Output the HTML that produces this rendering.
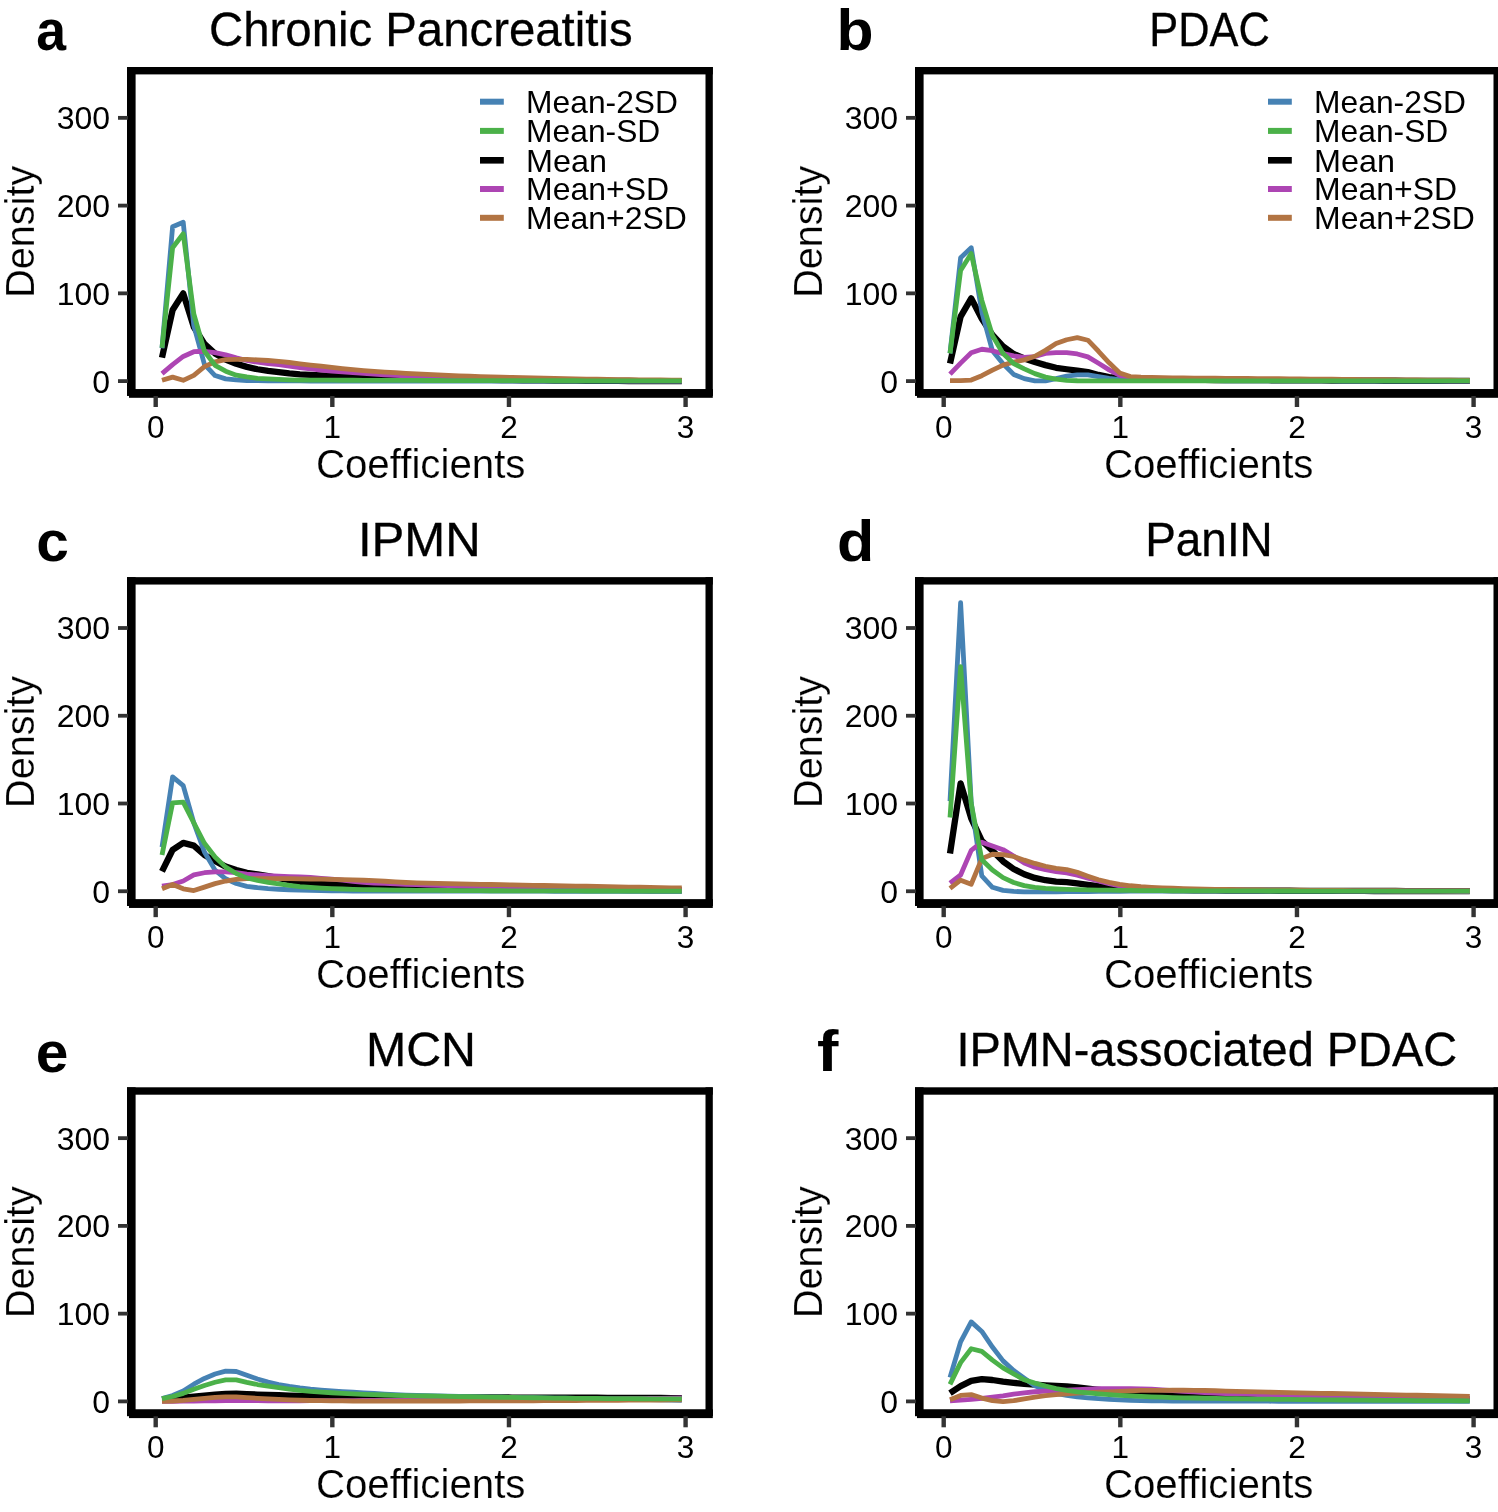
<!DOCTYPE html>
<html><head><meta charset="utf-8"><style>
html,body{margin:0;padding:0;background:#fff;}
body{width:1498px;height:1512px;overflow:hidden;}
svg{display:block;will-change:transform;font-family:"Liberation Sans",sans-serif;}
text.ax{stroke:#fff;stroke-width:0.2px;}
text.ti{stroke:#000;stroke-width:0.3px;}
</style></head><body>
<svg width="1498" height="1512" viewBox="0 0 1498 1512">
<rect width="1498" height="1512" fill="#fff"/>
<g>
<polyline points="162,357.67 172.61,310.02 183.22,293.35 193.82,326.96 204.43,343.81 215.04,353.46 225.65,359.6 236.26,363.81 246.86,366.88 257.47,369.25 268.08,370.83 278.69,372.06 289.3,373.47 299.9,374.34 310.51,374.92 321.12,375.42 331.73,375.86 342.34,376.25 352.94,376.6 363.55,376.93 374.16,377.23 384.77,377.53 395.38,377.83 405.98,378.12 416.59,378.41 427.2,378.68 437.81,378.94 448.42,379.18 459.02,379.4 469.63,379.6 480.24,379.78 490.85,379.93 501.46,380.05 512.06,380.15 522.67,380.25 533.28,380.34 543.89,380.43 554.5,380.52 565.1,380.6 575.71,380.68 586.32,380.75 596.93,380.82 607.54,380.88 618.14,380.94 628.75,380.99 639.36,381.03 649.97,381.06 660.58,381.08 671.18,381.1 681.79,381.1" fill="none" stroke="#000000" stroke-width="6.3" stroke-linejoin="round" stroke-linecap="butt"/>
<polyline points="162,348.28 172.61,226.66 183.22,222.27 193.82,325.64 204.43,364.43 215.04,375.57 225.65,378.91 236.26,379.96 246.86,380.49 257.47,380.72 268.08,380.84 278.69,380.88 289.3,380.92 299.9,380.95 310.51,380.98 321.12,381 331.73,381.02 342.34,381.03 352.94,381.04 363.55,381.05 374.16,381.06 384.77,381.06 395.38,381.06 405.98,381.07 416.59,381.07 427.2,381.07 437.81,381.07 448.42,381.08 459.02,381.08 469.63,381.08 480.24,381.08 490.85,381.08 501.46,381.09 512.06,381.09 522.67,381.09 533.28,381.09 543.89,381.09 554.5,381.09 565.1,381.09 575.71,381.1 586.32,381.1 596.93,381.1 607.54,381.1 618.14,381.1 628.75,381.1 639.36,381.1 649.97,381.1 660.58,381.1 671.18,381.1 681.79,381.1" fill="none" stroke="#4682b4" stroke-width="4.8" stroke-linejoin="round" stroke-linecap="butt"/>
<polyline points="162,373.64 172.61,364.6 183.22,356.44 193.82,351.7 204.43,351.27 215.04,352.58 225.65,354.78 236.26,357.85 246.86,360.48 257.47,362.23 268.08,363.55 278.69,364.6 289.3,366.01 299.9,367.5 310.51,368.91 321.12,370.13 331.73,371.09 342.34,371.92 352.94,372.68 363.55,373.43 374.16,374.14 384.77,374.75 395.38,375.35 405.98,375.95 416.59,376.54 427.2,377.11 437.81,377.66 448.42,378.17 459.02,378.63 469.63,379.03 480.24,379.37 490.85,379.62 501.46,379.78 512.06,379.9 522.67,380 533.28,380.1 543.89,380.2 554.5,380.29 565.1,380.37 575.71,380.45 586.32,380.52 596.93,380.59 607.54,380.64 618.14,380.69 628.75,380.74 639.36,380.77 649.97,380.8 660.58,380.82 671.18,380.83 681.79,380.84" fill="none" stroke="#ad45b3" stroke-width="4.8" stroke-linejoin="round" stroke-linecap="butt"/>
<polyline points="162,380.31 172.61,377.15 183.22,380.31 193.82,375.31 204.43,366.62 215.04,361.8 225.65,359.6 236.26,359.43 246.86,359.43 257.47,359.86 268.08,360.48 278.69,361.27 289.3,362.5 299.9,363.81 310.51,365.02 321.12,366.23 331.73,367.41 342.34,368.54 352.94,369.59 363.55,370.54 374.16,371.37 384.77,372.06 395.38,372.7 405.98,373.3 416.59,373.87 427.2,374.41 437.81,374.91 448.42,375.38 459.02,375.81 469.63,376.2 480.24,376.56 490.85,376.87 501.46,377.15 512.06,377.41 522.67,377.66 533.28,377.91 543.89,378.16 554.5,378.4 565.1,378.63 575.71,378.84 586.32,379.05 596.93,379.24 607.54,379.42 618.14,379.57 628.75,379.71 639.36,379.83 649.97,379.92 660.58,379.99 671.18,380.03 681.79,380.05" fill="none" stroke="#b27443" stroke-width="4.8" stroke-linejoin="round" stroke-linecap="butt"/>
<polyline points="162,347.67 172.61,247.72 183.22,233.68 193.82,313.97 204.43,351.27 215.04,365.31 225.65,371.18 236.26,375.13 246.86,376.89 257.47,378.29 268.08,378.82 278.69,379.35 289.3,379.78 299.9,380.05 310.51,380.12 321.12,380.17 331.73,380.21 342.34,380.23 352.94,380.26 363.55,380.28 374.16,380.31 384.77,380.34 395.38,380.38 405.98,380.41 416.59,380.45 427.2,380.48 437.81,380.51 448.42,380.54 459.02,380.57 469.63,380.6 480.24,380.62 490.85,380.64 501.46,380.66 512.06,380.68 522.67,380.69 533.28,380.71 543.89,380.72 554.5,380.74 565.1,380.75 575.71,380.76 586.32,380.78 596.93,380.79 607.54,380.8 618.14,380.81 628.75,380.82 639.36,380.82 649.97,380.83 660.58,380.83 671.18,380.84 681.79,380.84" fill="none" stroke="#4bb149" stroke-width="4.8" stroke-linejoin="round" stroke-linecap="butt"/>
<rect x="127" y="67" width="585.8" height="7.4" fill="#000"/>
<rect x="127" y="67" width="8.6" height="328.8" fill="#000"/>
<rect x="705.5" y="67" width="7.3" height="328.8" fill="#000"/>
<rect x="127" y="389.2" width="585.8" height="6.6" fill="#000"/>
<rect x="129" y="389.2" width="583.8" height="8.6" fill="#000"/>
<rect x="118" y="379.2" width="10" height="3.8" fill="#333"/>
<text x="110.1" y="392.5" font-size="32" text-anchor="end">0</text>
<rect x="118" y="291.45" width="10" height="3.8" fill="#333"/>
<text x="110.1" y="304.75" font-size="32" text-anchor="end">100</text>
<rect x="118" y="203.7" width="10" height="3.8" fill="#333"/>
<text x="110.1" y="217" font-size="32" text-anchor="end">200</text>
<rect x="118" y="115.95" width="10" height="3.8" fill="#333"/>
<text x="110.1" y="129.25" font-size="32" text-anchor="end">300</text>
<rect x="153.5" y="396" width="4.4" height="11" fill="#333"/>
<text x="155.7" y="438.1" font-size="31.5" text-anchor="middle">0</text>
<rect x="330.13" y="396" width="4.4" height="11" fill="#333"/>
<text x="332.33" y="438.1" font-size="31.5" text-anchor="middle">1</text>
<rect x="506.76" y="396" width="4.4" height="11" fill="#333"/>
<text x="508.96" y="438.1" font-size="31.5" text-anchor="middle">2</text>
<rect x="683.39" y="396" width="4.4" height="11" fill="#333"/>
<text x="685.59" y="438.1" font-size="31.5" text-anchor="middle">3</text>
<text x="420.7" y="477.6" font-size="41.5" class="ax" text-anchor="middle" textLength="209.5" lengthAdjust="spacingAndGlyphs">Coefficients</text>
<text transform="translate(34.4,231.8) rotate(-90)" font-size="41.2" class="ax" text-anchor="middle" textLength="132" lengthAdjust="spacingAndGlyphs">Density</text>
<text x="420.8" y="46.1" font-size="48" class="ti" text-anchor="middle" textLength="423.5" lengthAdjust="spacingAndGlyphs">Chronic Pancreatitis</text>
<text transform="translate(36.2,50) scale(0.94,1)" font-size="57" font-weight="bold" class="b">a</text>
<rect x="480" y="98.7" width="23.8" height="6.0" fill="#4682b4"/>
<text transform="translate(526.1,112.9) scale(1.0350,1)" font-size="30.7">Mean-2SD</text>
<rect x="480" y="127.9" width="23.8" height="6.0" fill="#4bb149"/>
<text transform="translate(526.1,142.1) scale(1.0350,1)" font-size="30.7">Mean-SD</text>
<rect x="480" y="157" width="23.8" height="6.6" fill="#000000"/>
<text transform="translate(526.1,171.5) scale(1.0550,1)" font-size="30.7">Mean</text>
<rect x="480" y="186" width="23.8" height="6.0" fill="#ad45b3"/>
<text transform="translate(526.1,200.2) scale(1.0410,1)" font-size="30.7">Mean+SD</text>
<rect x="480" y="214.8" width="23.8" height="6.0" fill="#b27443"/>
<text transform="translate(526.1,229) scale(1.0410,1)" font-size="30.7">Mean+2SD</text>
</g>
<g>
<polyline points="950,363.55 960.61,316.6 971.22,298.35 981.82,318.8 992.43,334.94 1003.04,346.44 1013.65,353.99 1024.26,358.46 1034.86,361.97 1045.47,365.13 1056.08,367.76 1066.69,369.25 1077.3,370.66 1087.9,372.15 1098.51,374.96 1109.12,377.06 1119.73,378.47 1130.34,379.17 1140.94,379.34 1151.55,379.49 1162.16,379.62 1172.77,379.72 1183.38,379.81 1193.98,379.88 1204.59,379.95 1215.2,380 1225.81,380.05 1236.42,380.09 1247.02,380.13 1257.63,380.17 1268.24,380.22 1278.85,380.27 1289.46,380.33 1300.06,380.38 1310.67,380.43 1321.28,380.47 1331.89,380.52 1342.5,380.57 1353.1,380.61 1363.71,380.65 1374.32,380.69 1384.93,380.73 1395.54,380.76 1406.14,380.8 1416.75,380.83 1427.36,380.85 1437.97,380.88 1448.58,380.9 1459.18,380.91 1469.79,380.92" fill="none" stroke="#000000" stroke-width="6.3" stroke-linejoin="round" stroke-linecap="butt"/>
<polyline points="950,353.37 960.61,257.81 971.22,247.72 981.82,311.78 992.43,350.83 1003.04,363.73 1013.65,374.43 1024.26,378.64 1034.86,380.84 1045.47,380.84 1056.08,378.64 1066.69,376.01 1077.3,374.78 1087.9,374.78 1098.51,376.71 1109.12,378.47 1119.73,379.52 1130.34,380.05 1140.94,380.18 1151.55,380.29 1162.16,380.39 1172.77,380.48 1183.38,380.55 1193.98,380.61 1204.59,380.66 1215.2,380.7 1225.81,380.73 1236.42,380.76 1247.02,380.79 1257.63,380.81 1268.24,380.84 1278.85,380.86 1289.46,380.88 1300.06,380.9 1310.67,380.93 1321.28,380.95 1331.89,380.96 1342.5,380.98 1353.1,381 1363.71,381.02 1374.32,381.03 1384.93,381.05 1395.54,381.06 1406.14,381.07 1416.75,381.08 1427.36,381.09 1437.97,381.09 1448.58,381.1 1459.18,381.1 1469.79,381.1" fill="none" stroke="#4682b4" stroke-width="4.8" stroke-linejoin="round" stroke-linecap="butt"/>
<polyline points="950,374.08 960.61,363.11 971.22,352.84 981.82,349.25 992.43,350.74 1003.04,353.72 1013.65,355.92 1024.26,357.41 1034.86,356.53 1045.47,353.46 1056.08,352.58 1066.69,352.58 1077.3,353.99 1087.9,356.88 1098.51,363.29 1109.12,369.87 1119.73,375.4 1130.34,377.41 1140.94,378.03 1151.55,378.26 1162.16,378.47 1172.77,378.64 1183.38,378.79 1193.98,378.91 1204.59,379.02 1215.2,379.11 1225.81,379.2 1236.42,379.28 1247.02,379.35 1257.63,379.43 1268.24,379.52 1278.85,379.61 1289.46,379.7 1300.06,379.79 1310.67,379.87 1321.28,379.96 1331.89,380.04 1342.5,380.12 1353.1,380.2 1363.71,380.27 1374.32,380.35 1384.93,380.42 1395.54,380.48 1406.14,380.54 1416.75,380.6 1427.36,380.66 1437.97,380.71 1448.58,380.76 1459.18,380.8 1469.79,380.84" fill="none" stroke="#ad45b3" stroke-width="4.8" stroke-linejoin="round" stroke-linecap="butt"/>
<polyline points="950,380.57 960.61,380.57 971.22,380.05 981.82,375.66 992.43,370.13 1003.04,365.04 1013.65,362.15 1024.26,359.86 1034.86,356.27 1045.47,350.39 1056.08,343.54 1066.69,339.77 1077.3,337.66 1087.9,340.21 1098.51,351.27 1109.12,362.85 1119.73,373.03 1130.34,376.54 1140.94,377.24 1151.55,377.47 1162.16,377.66 1172.77,377.82 1183.38,377.96 1193.98,378.07 1204.59,378.16 1215.2,378.24 1225.81,378.32 1236.42,378.39 1247.02,378.46 1257.63,378.55 1268.24,378.64 1278.85,378.75 1289.46,378.85 1300.06,378.95 1310.67,379.05 1321.28,379.15 1331.89,379.25 1342.5,379.35 1353.1,379.44 1363.71,379.54 1374.32,379.63 1384.93,379.72 1395.54,379.81 1406.14,379.9 1416.75,379.99 1427.36,380.07 1437.97,380.16 1448.58,380.24 1459.18,380.32 1469.79,380.4" fill="none" stroke="#b27443" stroke-width="4.8" stroke-linejoin="round" stroke-linecap="butt"/>
<polyline points="950,353.37 960.61,270.54 971.22,253.6 981.82,300.37 992.43,335.47 1003.04,353.46 1013.65,363.55 1024.26,368.81 1034.86,373.64 1045.47,377.15 1056.08,379.17 1066.69,380.4 1077.3,380.75 1087.9,380.84 1098.51,380.92 1109.12,380.92 1119.73,380.92 1130.34,380.92 1140.94,380.92 1151.55,380.92 1162.16,380.92 1172.77,380.92 1183.38,380.92 1193.98,380.92 1204.59,380.92 1215.2,380.92 1225.81,380.92 1236.42,380.92 1247.02,380.92 1257.63,380.92 1268.24,380.92 1278.85,380.92 1289.46,380.92 1300.06,380.92 1310.67,380.92 1321.28,380.92 1331.89,380.92 1342.5,380.92 1353.1,380.92 1363.71,380.92 1374.32,380.92 1384.93,380.92 1395.54,380.92 1406.14,380.92 1416.75,380.92 1427.36,380.92 1437.97,380.92 1448.58,380.92 1459.18,380.92 1469.79,380.92" fill="none" stroke="#4bb149" stroke-width="4.8" stroke-linejoin="round" stroke-linecap="butt"/>
<rect x="915" y="67" width="585.8" height="7.4" fill="#000"/>
<rect x="915" y="67" width="8.6" height="328.8" fill="#000"/>
<rect x="1493.5" y="67" width="7.3" height="328.8" fill="#000"/>
<rect x="915" y="389.2" width="585.8" height="6.6" fill="#000"/>
<rect x="917" y="389.2" width="583.8" height="8.6" fill="#000"/>
<rect x="906" y="379.2" width="10" height="3.8" fill="#333"/>
<text x="898.1" y="392.5" font-size="32" text-anchor="end">0</text>
<rect x="906" y="291.45" width="10" height="3.8" fill="#333"/>
<text x="898.1" y="304.75" font-size="32" text-anchor="end">100</text>
<rect x="906" y="203.7" width="10" height="3.8" fill="#333"/>
<text x="898.1" y="217" font-size="32" text-anchor="end">200</text>
<rect x="906" y="115.95" width="10" height="3.8" fill="#333"/>
<text x="898.1" y="129.25" font-size="32" text-anchor="end">300</text>
<rect x="941.5" y="396" width="4.4" height="11" fill="#333"/>
<text x="943.7" y="438.1" font-size="31.5" text-anchor="middle">0</text>
<rect x="1118.13" y="396" width="4.4" height="11" fill="#333"/>
<text x="1120.33" y="438.1" font-size="31.5" text-anchor="middle">1</text>
<rect x="1294.76" y="396" width="4.4" height="11" fill="#333"/>
<text x="1296.96" y="438.1" font-size="31.5" text-anchor="middle">2</text>
<rect x="1471.39" y="396" width="4.4" height="11" fill="#333"/>
<text x="1473.59" y="438.1" font-size="31.5" text-anchor="middle">3</text>
<text x="1208.7" y="477.6" font-size="41.5" class="ax" text-anchor="middle" textLength="209.5" lengthAdjust="spacingAndGlyphs">Coefficients</text>
<text transform="translate(822.4,231.8) rotate(-90)" font-size="41.2" class="ax" text-anchor="middle" textLength="132" lengthAdjust="spacingAndGlyphs">Density</text>
<text x="1209.6" y="46.1" font-size="48" class="ti" text-anchor="middle" textLength="120.5" lengthAdjust="spacingAndGlyphs">PDAC</text>
<text transform="translate(836.5,50.3) scale(1.064,1)" font-size="57" font-weight="bold" class="b">b</text>
<rect x="1268" y="98.7" width="23.8" height="6.0" fill="#4682b4"/>
<text transform="translate(1314.1,112.9) scale(1.0350,1)" font-size="30.7">Mean-2SD</text>
<rect x="1268" y="127.9" width="23.8" height="6.0" fill="#4bb149"/>
<text transform="translate(1314.1,142.1) scale(1.0350,1)" font-size="30.7">Mean-SD</text>
<rect x="1268" y="157" width="23.8" height="6.6" fill="#000000"/>
<text transform="translate(1314.1,171.5) scale(1.0550,1)" font-size="30.7">Mean</text>
<rect x="1268" y="186" width="23.8" height="6.0" fill="#ad45b3"/>
<text transform="translate(1314.1,200.2) scale(1.0410,1)" font-size="30.7">Mean+SD</text>
<rect x="1268" y="214.8" width="23.8" height="6.0" fill="#b27443"/>
<text transform="translate(1314.1,229) scale(1.0410,1)" font-size="30.7">Mean+2SD</text>
</g>
<g>
<polyline points="162,871.49 172.61,849.79 183.22,842.85 193.82,845.62 204.43,855.01 215.04,861.06 225.65,866.59 236.26,870.1 246.86,872.82 257.47,874.31 268.08,876.16 278.69,878.09 289.3,880.05 299.9,881.89 310.51,882.96 321.12,883.55 331.73,884.01 342.34,884.37 352.94,884.68 363.55,884.98 374.16,885.29 384.77,885.58 395.38,885.84 405.98,886.11 416.59,886.39 427.2,886.68 437.81,886.97 448.42,887.25 459.02,887.51 469.63,887.74 480.24,887.95 490.85,888.15 501.46,888.34 512.06,888.53 522.67,888.7 533.28,888.87 543.89,889.03 554.5,889.18 565.1,889.32 575.71,889.46 586.32,889.58 596.93,889.7 607.54,889.82 618.14,889.93 628.75,890.03 639.36,890.13 649.97,890.23 660.58,890.31 671.18,890.39 681.79,890.46" fill="none" stroke="#000000" stroke-width="6.3" stroke-linejoin="round" stroke-linecap="butt"/>
<polyline points="162,847.19 172.61,776.9 183.22,785.58 193.82,822.89 204.43,852.03 215.04,870.1 225.65,878.79 236.26,883.53 246.86,886.34 257.47,887.73 268.08,888.62 278.69,889.25 289.3,889.77 299.9,890.16 310.51,890.41 321.12,890.6 331.73,890.77 342.34,890.91 352.94,891.01 363.55,891.06 374.16,891.08 384.77,891.1 395.38,891.11 405.98,891.12 416.59,891.13 427.2,891.14 437.81,891.15 448.42,891.16 459.02,891.17 469.63,891.18 480.24,891.19 490.85,891.2 501.46,891.2 512.06,891.21 522.67,891.21 533.28,891.22 543.89,891.22 554.5,891.23 565.1,891.23 575.71,891.24 586.32,891.24 596.93,891.24 607.54,891.24 618.14,891.25 628.75,891.25 639.36,891.25 649.97,891.25 660.58,891.25 671.18,891.25 681.79,891.25" fill="none" stroke="#4682b4" stroke-width="4.8" stroke-linejoin="round" stroke-linecap="butt"/>
<polyline points="162,886.24 172.61,884.5 183.22,881.03 193.82,874.95 204.43,872.73 215.04,871.86 225.65,871.86 236.26,872.73 246.86,874.14 257.47,874.93 268.08,875.54 278.69,876.07 289.3,876.53 299.9,876.96 310.51,877.51 321.12,878.29 331.73,879.2 342.34,880.18 352.94,881.33 363.55,882.35 374.16,883 384.77,883.47 395.38,883.87 405.98,884.24 416.59,884.63 427.2,885.01 437.81,885.37 448.42,885.71 459.02,886.04 469.63,886.34 480.24,886.62 490.85,886.89 501.46,887.16 512.06,887.43 522.67,887.68 533.28,887.92 543.89,888.14 554.5,888.36 565.1,888.55 575.71,888.73 586.32,888.88 596.93,889.02 607.54,889.16 618.14,889.29 628.75,889.41 639.36,889.52 649.97,889.62 660.58,889.71 671.18,889.79 681.79,889.85" fill="none" stroke="#ad45b3" stroke-width="4.8" stroke-linejoin="round" stroke-linecap="butt"/>
<polyline points="162,888.84 172.61,884.5 183.22,888.84 193.82,890.57 204.43,887.11 215.04,883.63 225.65,881.03 236.26,879.3 246.86,878.7 257.47,878.65 268.08,878.62 278.69,878.61 289.3,878.68 299.9,878.83 310.51,879 321.12,879.18 331.73,879.39 342.34,879.63 352.94,879.91 363.55,880.23 374.16,880.64 384.77,881.26 395.38,881.93 405.98,882.48 416.59,882.84 427.2,883.13 437.81,883.38 448.42,883.61 459.02,883.83 469.63,884.05 480.24,884.28 490.85,884.49 501.46,884.69 512.06,884.89 522.67,885.08 533.28,885.28 543.89,885.48 554.5,885.68 565.1,885.88 575.71,886.08 586.32,886.27 596.93,886.47 607.54,886.67 618.14,886.86 628.75,887.05 639.36,887.25 649.97,887.44 660.58,887.63 671.18,887.82 681.79,888" fill="none" stroke="#b27443" stroke-width="4.8" stroke-linejoin="round" stroke-linecap="butt"/>
<polyline points="162,855 172.61,802.93 183.22,802.06 193.82,822.89 204.43,843.25 215.04,857.03 225.65,867.12 236.26,873.44 246.86,877.91 257.47,880.37 268.08,882.28 278.69,883.88 289.3,885.33 299.9,886.59 310.51,887.43 321.12,888.04 331.73,888.56 342.34,888.99 352.94,889.34 363.55,889.59 374.16,889.77 384.77,889.92 395.38,890.06 405.98,890.18 416.59,890.28 427.2,890.37 437.81,890.45 448.42,890.52 459.02,890.58 469.63,890.64 480.24,890.68 490.85,890.73 501.46,890.77 512.06,890.81 522.67,890.84 533.28,890.87 543.89,890.9 554.5,890.93 565.1,890.95 575.71,890.97 586.32,890.99 596.93,891 607.54,891.02 618.14,891.03 628.75,891.04 639.36,891.05 649.97,891.06 660.58,891.07 671.18,891.07 681.79,891.07" fill="none" stroke="#4bb149" stroke-width="4.8" stroke-linejoin="round" stroke-linecap="butt"/>
<rect x="127" y="577.15" width="585.8" height="7.4" fill="#000"/>
<rect x="127" y="577.15" width="8.6" height="328.8" fill="#000"/>
<rect x="705.5" y="577.15" width="7.3" height="328.8" fill="#000"/>
<rect x="127" y="899.35" width="585.8" height="6.6" fill="#000"/>
<rect x="129" y="899.35" width="583.8" height="8.6" fill="#000"/>
<rect x="118" y="889.35" width="10" height="3.8" fill="#333"/>
<text x="110.1" y="902.65" font-size="32" text-anchor="end">0</text>
<rect x="118" y="801.6" width="10" height="3.8" fill="#333"/>
<text x="110.1" y="814.9" font-size="32" text-anchor="end">100</text>
<rect x="118" y="713.85" width="10" height="3.8" fill="#333"/>
<text x="110.1" y="727.15" font-size="32" text-anchor="end">200</text>
<rect x="118" y="626.1" width="10" height="3.8" fill="#333"/>
<text x="110.1" y="639.4" font-size="32" text-anchor="end">300</text>
<rect x="153.5" y="906.15" width="4.4" height="11" fill="#333"/>
<text x="155.7" y="948.25" font-size="31.5" text-anchor="middle">0</text>
<rect x="330.13" y="906.15" width="4.4" height="11" fill="#333"/>
<text x="332.33" y="948.25" font-size="31.5" text-anchor="middle">1</text>
<rect x="506.76" y="906.15" width="4.4" height="11" fill="#333"/>
<text x="508.96" y="948.25" font-size="31.5" text-anchor="middle">2</text>
<rect x="683.39" y="906.15" width="4.4" height="11" fill="#333"/>
<text x="685.59" y="948.25" font-size="31.5" text-anchor="middle">3</text>
<text x="420.7" y="987.75" font-size="41.5" class="ax" text-anchor="middle" textLength="209.5" lengthAdjust="spacingAndGlyphs">Coefficients</text>
<text transform="translate(34.4,741.95) rotate(-90)" font-size="41.2" class="ax" text-anchor="middle" textLength="132" lengthAdjust="spacingAndGlyphs">Density</text>
<text x="419.3" y="556" font-size="48" class="ti" text-anchor="middle" textLength="122.8" lengthAdjust="spacingAndGlyphs">IPMN</text>
<text transform="translate(36.3,561.3) scale(1.03,1)" font-size="57" font-weight="bold" class="b">c</text>
</g>
<g>
<polyline points="950,853.52 960.61,783.32 971.22,818.42 981.82,840.79 992.43,850.71 1003.04,861.32 1013.65,868.97 1024.26,874.28 1034.86,877.91 1045.47,880.22 1056.08,881.59 1066.69,882.22 1077.3,883.34 1087.9,884.81 1098.51,886.12 1109.12,887.19 1119.73,888.02 1130.34,888.61 1140.94,889.14 1151.55,889.53 1162.16,889.77 1172.77,889.98 1183.38,890.15 1193.98,890.29 1204.59,890.39 1215.2,890.46 1225.81,890.51 1236.42,890.56 1247.02,890.6 1257.63,890.65 1268.24,890.69 1278.85,890.73 1289.46,890.77 1300.06,890.8 1310.67,890.84 1321.28,890.87 1331.89,890.89 1342.5,890.92 1353.1,890.95 1363.71,890.97 1374.32,890.99 1384.93,891.01 1395.54,891.02 1406.14,891.04 1416.75,891.05 1427.36,891.06 1437.97,891.06 1448.58,891.07 1459.18,891.07 1469.79,891.07" fill="none" stroke="#000000" stroke-width="6.3" stroke-linejoin="round" stroke-linecap="butt"/>
<polyline points="950,801.22 960.61,602.73 971.22,802.62 981.82,875.98 992.43,887.31 1003.04,890.39 1013.65,891.42 1024.26,891.83 1034.86,891.82 1045.47,891.78 1056.08,891.73 1066.69,891.66 1077.3,891.58 1087.9,891.5 1098.51,891.41 1109.12,891.32 1119.73,891.24 1130.34,891.18 1140.94,891.12 1151.55,891.09 1162.16,891.07 1172.77,891.07 1183.38,891.07 1193.98,891.07 1204.59,891.07 1215.2,891.08 1225.81,891.08 1236.42,891.08 1247.02,891.08 1257.63,891.08 1268.24,891.08 1278.85,891.08 1289.46,891.09 1300.06,891.09 1310.67,891.09 1321.28,891.1 1331.89,891.1 1342.5,891.11 1353.1,891.12 1363.71,891.12 1374.32,891.13 1384.93,891.14 1395.54,891.15 1406.14,891.16 1416.75,891.17 1427.36,891.19 1437.97,891.2 1448.58,891.22 1459.18,891.23 1469.79,891.25" fill="none" stroke="#4682b4" stroke-width="4.8" stroke-linejoin="round" stroke-linecap="butt"/>
<polyline points="950,883.21 960.61,875.01 971.22,850.4 981.82,842.21 992.43,845.94 1003.04,849.66 1013.65,856.09 1024.26,862.93 1034.86,867.16 1045.47,869.75 1056.08,871.55 1066.69,872.89 1077.3,875.15 1087.9,878.13 1098.51,881.02 1109.12,883.75 1119.73,885.85 1130.34,886.98 1140.94,887.82 1151.55,888.42 1162.16,888.85 1172.77,889.22 1183.38,889.53 1193.98,889.77 1204.59,889.93 1215.2,890.05 1225.81,890.16 1236.42,890.25 1247.02,890.33 1257.63,890.4 1268.24,890.45 1278.85,890.5 1289.46,890.55 1300.06,890.59 1310.67,890.63 1321.28,890.67 1331.89,890.71 1342.5,890.74 1353.1,890.78 1363.71,890.81 1374.32,890.84 1384.93,890.87 1395.54,890.89 1406.14,890.92 1416.75,890.94 1427.36,890.95 1437.97,890.97 1448.58,890.98 1459.18,890.98 1469.79,890.99" fill="none" stroke="#ad45b3" stroke-width="4.8" stroke-linejoin="round" stroke-linecap="butt"/>
<polyline points="950,888.34 960.61,880.14 971.22,884.24 981.82,858.61 992.43,854.23 1003.04,854.58 1013.65,856.51 1024.26,860.16 1034.86,863.43 1045.47,866.24 1056.08,868.39 1066.69,869.64 1077.3,872.29 1087.9,876.15 1098.51,879.79 1109.12,882.41 1119.73,884.31 1130.34,885.76 1140.94,886.73 1151.55,887.37 1162.16,887.85 1172.77,888.27 1183.38,888.62 1193.98,888.91 1204.59,889.14 1215.2,889.33 1225.81,889.51 1236.42,889.66 1247.02,889.8 1257.63,889.93 1268.24,890.03 1278.85,890.12 1289.46,890.2 1300.06,890.26 1310.67,890.33 1321.28,890.39 1331.89,890.45 1342.5,890.51 1353.1,890.57 1363.71,890.62 1374.32,890.67 1384.93,890.71 1395.54,890.75 1406.14,890.79 1416.75,890.82 1427.36,890.85 1437.97,890.87 1448.58,890.89 1459.18,890.9 1469.79,890.9" fill="none" stroke="#b27443" stroke-width="4.8" stroke-linejoin="round" stroke-linecap="butt"/>
<polyline points="950,817.54 960.61,666.61 971.22,803.5 981.82,859.66 992.43,870.03 1003.04,877.64 1013.65,882.53 1024.26,885.61 1034.86,887.47 1045.47,888.41 1056.08,888.98 1066.69,889.39 1077.3,889.67 1087.9,889.88 1098.51,890.04 1109.12,890.17 1119.73,890.3 1130.34,890.44 1140.94,890.56 1151.55,890.64 1162.16,890.7 1172.77,890.74 1183.38,890.78 1193.98,890.82 1204.59,890.85 1215.2,890.88 1225.81,890.91 1236.42,890.93 1247.02,890.95 1257.63,890.97 1268.24,890.99 1278.85,891 1289.46,891.02 1300.06,891.03 1310.67,891.04 1321.28,891.06 1331.89,891.07 1342.5,891.08 1353.1,891.09 1363.71,891.1 1374.32,891.12 1384.93,891.12 1395.54,891.13 1406.14,891.14 1416.75,891.15 1427.36,891.15 1437.97,891.16 1448.58,891.16 1459.18,891.16 1469.79,891.16" fill="none" stroke="#4bb149" stroke-width="4.8" stroke-linejoin="round" stroke-linecap="butt"/>
<rect x="915" y="577.15" width="585.8" height="7.4" fill="#000"/>
<rect x="915" y="577.15" width="8.6" height="328.8" fill="#000"/>
<rect x="1493.5" y="577.15" width="7.3" height="328.8" fill="#000"/>
<rect x="915" y="899.35" width="585.8" height="6.6" fill="#000"/>
<rect x="917" y="899.35" width="583.8" height="8.6" fill="#000"/>
<rect x="906" y="889.35" width="10" height="3.8" fill="#333"/>
<text x="898.1" y="902.65" font-size="32" text-anchor="end">0</text>
<rect x="906" y="801.6" width="10" height="3.8" fill="#333"/>
<text x="898.1" y="814.9" font-size="32" text-anchor="end">100</text>
<rect x="906" y="713.85" width="10" height="3.8" fill="#333"/>
<text x="898.1" y="727.15" font-size="32" text-anchor="end">200</text>
<rect x="906" y="626.1" width="10" height="3.8" fill="#333"/>
<text x="898.1" y="639.4" font-size="32" text-anchor="end">300</text>
<rect x="941.5" y="906.15" width="4.4" height="11" fill="#333"/>
<text x="943.7" y="948.25" font-size="31.5" text-anchor="middle">0</text>
<rect x="1118.13" y="906.15" width="4.4" height="11" fill="#333"/>
<text x="1120.33" y="948.25" font-size="31.5" text-anchor="middle">1</text>
<rect x="1294.76" y="906.15" width="4.4" height="11" fill="#333"/>
<text x="1296.96" y="948.25" font-size="31.5" text-anchor="middle">2</text>
<rect x="1471.39" y="906.15" width="4.4" height="11" fill="#333"/>
<text x="1473.59" y="948.25" font-size="31.5" text-anchor="middle">3</text>
<text x="1208.7" y="987.75" font-size="41.5" class="ax" text-anchor="middle" textLength="209.5" lengthAdjust="spacingAndGlyphs">Coefficients</text>
<text transform="translate(822.4,741.95) rotate(-90)" font-size="41.2" class="ax" text-anchor="middle" textLength="132" lengthAdjust="spacingAndGlyphs">Density</text>
<text x="1209" y="556" font-size="48" class="ti" text-anchor="middle" textLength="127.5" lengthAdjust="spacingAndGlyphs">PanIN</text>
<text transform="translate(837.1,561) scale(1.07,1)" font-size="57" font-weight="bold" class="b">d</text>
</g>
<g>
<polyline points="162,1399.47 172.61,1398.48 183.22,1397.55 193.82,1396.67 204.43,1395.63 215.04,1394.61 225.65,1393.78 236.26,1393.77 246.86,1394.2 257.47,1394.56 268.08,1394.81 278.69,1395.12 289.3,1395.55 299.9,1395.88 310.51,1396.16 321.12,1396.41 331.73,1396.65 342.34,1396.9 352.94,1397.11 363.55,1397.2 374.16,1397.23 384.77,1397.25 395.38,1397.27 405.98,1397.29 416.59,1397.32 427.2,1397.34 437.81,1397.36 448.42,1397.38 459.02,1397.4 469.63,1397.43 480.24,1397.45 490.85,1397.48 501.46,1397.5 512.06,1397.53 522.67,1397.56 533.28,1397.58 543.89,1397.61 554.5,1397.64 565.1,1397.67 575.71,1397.7 586.32,1397.73 596.93,1397.77 607.54,1397.8 618.14,1397.84 628.75,1397.87 639.36,1397.91 649.97,1397.95 660.58,1397.99 671.18,1398.03 681.79,1398.07" fill="none" stroke="#000000" stroke-width="6.3" stroke-linejoin="round" stroke-linecap="butt"/>
<polyline points="162,1398.5 172.61,1395.56 183.22,1390.92 193.82,1384.18 204.43,1378.44 215.04,1374.03 225.65,1371.16 236.26,1371.49 246.86,1375.34 257.47,1379.01 268.08,1382.11 278.69,1384.52 289.3,1386.45 299.9,1387.98 310.51,1389.13 321.12,1390.04 331.73,1390.84 342.34,1391.54 352.94,1392.17 363.55,1392.8 374.16,1393.49 384.77,1394.18 395.38,1394.74 405.98,1395.11 416.59,1395.44 427.2,1395.72 437.81,1395.98 448.42,1396.21 459.02,1396.42 469.63,1396.63 480.24,1396.84 490.85,1397.04 501.46,1397.23 512.06,1397.42 522.67,1397.59 533.28,1397.76 543.89,1397.92 554.5,1398.09 565.1,1398.26 575.71,1398.43 586.32,1398.61 596.93,1398.79 607.54,1398.97 618.14,1399.16 628.75,1399.34 639.36,1399.52 649.97,1399.71 660.58,1399.89 671.18,1400.07 681.79,1400.26" fill="none" stroke="#4682b4" stroke-width="4.8" stroke-linejoin="round" stroke-linecap="butt"/>
<polyline points="162,1401.4 172.61,1401.29 183.22,1401.18 193.82,1401.06 204.43,1400.91 215.04,1400.75 225.65,1400.63 236.26,1400.62 246.86,1400.66 257.47,1400.72 268.08,1400.77 278.69,1400.78 289.3,1400.77 299.9,1400.75 310.51,1400.71 321.12,1400.67 331.73,1400.63 342.34,1400.59 352.94,1400.55 363.55,1400.51 374.16,1400.48 384.77,1400.46 395.38,1400.43 405.98,1400.4 416.59,1400.37 427.2,1400.35 437.81,1400.32 448.42,1400.29 459.02,1400.25 469.63,1400.21 480.24,1400.17 490.85,1400.12 501.46,1400.07 512.06,1400 522.67,1399.93 533.28,1399.86 543.89,1399.77 554.5,1399.68 565.1,1399.59 575.71,1399.49 586.32,1399.38 596.93,1399.25 607.54,1399.1 618.14,1398.93 628.75,1398.76 639.36,1398.59 649.97,1398.44 660.58,1398.28 671.18,1398.13 681.79,1397.98" fill="none" stroke="#ad45b3" stroke-width="4.8" stroke-linejoin="round" stroke-linecap="butt"/>
<polyline points="162,1401.4 172.61,1400.99 183.22,1400.31 193.82,1399.3 204.43,1398.27 215.04,1397.45 225.65,1396.93 236.26,1396.93 246.86,1397.58 257.47,1398.29 268.08,1398.94 278.69,1399.46 289.3,1399.9 299.9,1400.27 310.51,1400.52 321.12,1400.69 331.73,1400.84 342.34,1400.96 352.94,1401.03 363.55,1401.05 374.16,1401.05 384.77,1401.04 395.38,1401.04 405.98,1401.03 416.59,1401.03 427.2,1401.02 437.81,1401.01 448.42,1401 459.02,1400.99 469.63,1400.97 480.24,1400.96 490.85,1400.94 501.46,1400.91 512.06,1400.86 522.67,1400.81 533.28,1400.75 543.89,1400.69 554.5,1400.62 565.1,1400.56 575.71,1400.49 586.32,1400.43 596.93,1400.38 607.54,1400.32 618.14,1400.27 628.75,1400.21 639.36,1400.15 649.97,1400.09 660.58,1400.03 671.18,1399.97 681.79,1399.91" fill="none" stroke="#b27443" stroke-width="4.8" stroke-linejoin="round" stroke-linecap="butt"/>
<polyline points="162,1398.68 172.61,1396.51 183.22,1393.38 193.82,1389.15 204.43,1385.43 215.04,1382.27 225.65,1379.93 236.26,1379.93 246.86,1382.38 257.47,1384.52 268.08,1386.14 278.69,1387.6 289.3,1389.01 299.9,1390.28 310.51,1391.31 321.12,1392.09 331.73,1392.75 342.34,1393.33 352.94,1393.88 363.55,1394.32 374.16,1394.69 384.77,1395.01 395.38,1395.29 405.98,1395.54 416.59,1395.78 427.2,1395.99 437.81,1396.2 448.42,1396.39 459.02,1396.57 469.63,1396.75 480.24,1396.92 490.85,1397.1 501.46,1397.27 512.06,1397.44 522.67,1397.61 533.28,1397.77 543.89,1397.92 554.5,1398.06 565.1,1398.18 575.71,1398.29 586.32,1398.38 596.93,1398.47 607.54,1398.55 618.14,1398.63 628.75,1398.7 639.36,1398.77 649.97,1398.83 660.58,1398.88 671.18,1398.92 681.79,1398.94" fill="none" stroke="#4bb149" stroke-width="4.8" stroke-linejoin="round" stroke-linecap="butt"/>
<rect x="127" y="1087.3" width="585.8" height="7.4" fill="#000"/>
<rect x="127" y="1087.3" width="8.6" height="328.8" fill="#000"/>
<rect x="705.5" y="1087.3" width="7.3" height="328.8" fill="#000"/>
<rect x="127" y="1409.5" width="585.8" height="6.6" fill="#000"/>
<rect x="129" y="1409.5" width="583.8" height="8.6" fill="#000"/>
<rect x="118" y="1399.5" width="10" height="3.8" fill="#333"/>
<text x="110.1" y="1412.8" font-size="32" text-anchor="end">0</text>
<rect x="118" y="1311.75" width="10" height="3.8" fill="#333"/>
<text x="110.1" y="1325.05" font-size="32" text-anchor="end">100</text>
<rect x="118" y="1224" width="10" height="3.8" fill="#333"/>
<text x="110.1" y="1237.3" font-size="32" text-anchor="end">200</text>
<rect x="118" y="1136.25" width="10" height="3.8" fill="#333"/>
<text x="110.1" y="1149.55" font-size="32" text-anchor="end">300</text>
<rect x="153.5" y="1416.3" width="4.4" height="11" fill="#333"/>
<text x="155.7" y="1458.4" font-size="31.5" text-anchor="middle">0</text>
<rect x="330.13" y="1416.3" width="4.4" height="11" fill="#333"/>
<text x="332.33" y="1458.4" font-size="31.5" text-anchor="middle">1</text>
<rect x="506.76" y="1416.3" width="4.4" height="11" fill="#333"/>
<text x="508.96" y="1458.4" font-size="31.5" text-anchor="middle">2</text>
<rect x="683.39" y="1416.3" width="4.4" height="11" fill="#333"/>
<text x="685.59" y="1458.4" font-size="31.5" text-anchor="middle">3</text>
<text x="420.7" y="1497.9" font-size="41.5" class="ax" text-anchor="middle" textLength="209.5" lengthAdjust="spacingAndGlyphs">Coefficients</text>
<text transform="translate(34.4,1252.1) rotate(-90)" font-size="41.2" class="ax" text-anchor="middle" textLength="132" lengthAdjust="spacingAndGlyphs">Density</text>
<text x="421" y="1066" font-size="48" class="ti" text-anchor="middle" textLength="110.1" lengthAdjust="spacingAndGlyphs">MCN</text>
<text transform="translate(35.7,1071.5) scale(1.03,1)" font-size="57" font-weight="bold" class="b">e</text>
</g>
<g>
<polyline points="950,1393.06 960.61,1386.13 971.22,1380.87 981.82,1379.2 992.43,1379.99 1003.04,1381.66 1013.65,1382.87 1024.26,1383.89 1034.86,1384.73 1045.47,1385.37 1056.08,1385.89 1066.69,1386.47 1077.3,1387.3 1087.9,1388.53 1098.51,1389.86 1109.12,1390.96 1119.73,1391.92 1130.34,1392.78 1140.94,1393.39 1151.55,1393.68 1162.16,1393.85 1172.77,1393.99 1183.38,1394.18 1193.98,1394.4 1204.59,1394.64 1215.2,1394.89 1225.81,1395.15 1236.42,1395.41 1247.02,1395.67 1257.63,1395.91 1268.24,1396.13 1278.85,1396.35 1289.46,1396.56 1300.06,1396.77 1310.67,1396.98 1321.28,1397.18 1331.89,1397.37 1342.5,1397.56 1353.1,1397.74 1363.71,1397.91 1374.32,1398.07 1384.93,1398.22 1395.54,1398.36 1406.14,1398.5 1416.75,1398.64 1427.36,1398.76 1437.97,1398.89 1448.58,1399 1459.18,1399.11 1469.79,1399.21" fill="none" stroke="#000000" stroke-width="6.3" stroke-linejoin="round" stroke-linecap="butt"/>
<polyline points="950,1377.44 960.61,1341.82 971.22,1321.9 981.82,1331.46 992.43,1347.08 1003.04,1360.86 1013.65,1370.42 1024.26,1378.23 1034.86,1385.78 1045.47,1389.99 1056.08,1393.33 1066.69,1395.43 1077.3,1396.91 1087.9,1397.93 1098.51,1398.73 1109.12,1399.35 1119.73,1399.88 1130.34,1400.33 1140.94,1400.64 1151.55,1400.8 1162.16,1400.93 1172.77,1401.01 1183.38,1401.06 1193.98,1401.09 1204.59,1401.12 1215.2,1401.15 1225.81,1401.17 1236.42,1401.18 1247.02,1401.2 1257.63,1401.21 1268.24,1401.22 1278.85,1401.24 1289.46,1401.25 1300.06,1401.26 1310.67,1401.28 1321.28,1401.29 1331.89,1401.3 1342.5,1401.31 1353.1,1401.33 1363.71,1401.34 1374.32,1401.35 1384.93,1401.36 1395.54,1401.37 1406.14,1401.37 1416.75,1401.38 1427.36,1401.39 1437.97,1401.39 1448.58,1401.4 1459.18,1401.4 1469.79,1401.4" fill="none" stroke="#4682b4" stroke-width="4.8" stroke-linejoin="round" stroke-linecap="butt"/>
<polyline points="950,1400.87 960.61,1400.08 971.22,1399.29 981.82,1398.33 992.43,1397.19 1003.04,1395.87 1013.65,1394.2 1024.26,1392.8 1034.86,1391.75 1045.47,1391.06 1056.08,1390.51 1066.69,1390.04 1077.3,1389.59 1087.9,1389.11 1098.51,1388.72 1109.12,1388.59 1119.73,1388.63 1130.34,1388.73 1140.94,1388.88 1151.55,1389.27 1162.16,1389.94 1172.77,1390.59 1183.38,1391.24 1193.98,1391.9 1204.59,1392.53 1215.2,1393.06 1225.81,1393.49 1236.42,1393.88 1247.02,1394.22 1257.63,1394.53 1268.24,1394.82 1278.85,1395.09 1289.46,1395.34 1300.06,1395.58 1310.67,1395.81 1321.28,1396.03 1331.89,1396.24 1342.5,1396.44 1353.1,1396.63 1363.71,1396.82 1374.32,1397.01 1384.93,1397.2 1395.54,1397.38 1406.14,1397.56 1416.75,1397.73 1427.36,1397.89 1437.97,1398.06 1448.58,1398.21 1459.18,1398.36 1469.79,1398.5" fill="none" stroke="#ad45b3" stroke-width="4.8" stroke-linejoin="round" stroke-linecap="butt"/>
<polyline points="950,1399.79 960.61,1395.45 971.22,1394.58 981.82,1398.06 992.43,1400.66 1003.04,1401.53 1013.65,1400.66 1024.26,1398.93 1034.86,1397.19 1045.47,1395.7 1056.08,1394.73 1066.69,1393.86 1077.3,1393.2 1087.9,1392.68 1098.51,1392.23 1109.12,1391.79 1119.73,1391.29 1130.34,1390.8 1140.94,1390.47 1151.55,1390.37 1162.16,1390.3 1172.77,1390.26 1183.38,1390.26 1193.98,1390.34 1204.59,1390.51 1215.2,1390.75 1225.81,1391.03 1236.42,1391.34 1247.02,1391.64 1257.63,1391.93 1268.24,1392.19 1278.85,1392.41 1289.46,1392.63 1300.06,1392.85 1310.67,1393.07 1321.28,1393.29 1331.89,1393.51 1342.5,1393.72 1353.1,1393.94 1363.71,1394.16 1374.32,1394.38 1384.93,1394.6 1395.54,1394.82 1406.14,1395.05 1416.75,1395.27 1427.36,1395.5 1437.97,1395.72 1448.58,1395.95 1459.18,1396.17 1469.79,1396.4" fill="none" stroke="#b27443" stroke-width="4.8" stroke-linejoin="round" stroke-linecap="butt"/>
<polyline points="950,1384.38 960.61,1362.61 971.22,1348.75 981.82,1351.38 992.43,1360.07 1003.04,1367.88 1013.65,1373.93 1024.26,1379.81 1034.86,1383.15 1045.47,1386.04 1056.08,1388.59 1066.69,1390.41 1077.3,1391.76 1087.9,1392.88 1098.51,1393.83 1109.12,1394.63 1119.73,1395.33 1130.34,1395.93 1140.94,1396.44 1151.55,1396.86 1162.16,1397.22 1172.77,1397.53 1183.38,1397.79 1193.98,1398.02 1204.59,1398.23 1215.2,1398.42 1225.81,1398.6 1236.42,1398.77 1247.02,1398.92 1257.63,1399.07 1268.24,1399.21 1278.85,1399.34 1289.46,1399.46 1300.06,1399.58 1310.67,1399.7 1321.28,1399.81 1331.89,1399.91 1342.5,1400.01 1353.1,1400.1 1363.71,1400.18 1374.32,1400.26 1384.93,1400.33 1395.54,1400.4 1406.14,1400.47 1416.75,1400.54 1427.36,1400.6 1437.97,1400.65 1448.58,1400.7 1459.18,1400.75 1469.79,1400.79" fill="none" stroke="#4bb149" stroke-width="4.8" stroke-linejoin="round" stroke-linecap="butt"/>
<rect x="915" y="1087.3" width="585.8" height="7.4" fill="#000"/>
<rect x="915" y="1087.3" width="8.6" height="328.8" fill="#000"/>
<rect x="1493.5" y="1087.3" width="7.3" height="328.8" fill="#000"/>
<rect x="915" y="1409.5" width="585.8" height="6.6" fill="#000"/>
<rect x="917" y="1409.5" width="583.8" height="8.6" fill="#000"/>
<rect x="906" y="1399.5" width="10" height="3.8" fill="#333"/>
<text x="898.1" y="1412.8" font-size="32" text-anchor="end">0</text>
<rect x="906" y="1311.75" width="10" height="3.8" fill="#333"/>
<text x="898.1" y="1325.05" font-size="32" text-anchor="end">100</text>
<rect x="906" y="1224" width="10" height="3.8" fill="#333"/>
<text x="898.1" y="1237.3" font-size="32" text-anchor="end">200</text>
<rect x="906" y="1136.25" width="10" height="3.8" fill="#333"/>
<text x="898.1" y="1149.55" font-size="32" text-anchor="end">300</text>
<rect x="941.5" y="1416.3" width="4.4" height="11" fill="#333"/>
<text x="943.7" y="1458.4" font-size="31.5" text-anchor="middle">0</text>
<rect x="1118.13" y="1416.3" width="4.4" height="11" fill="#333"/>
<text x="1120.33" y="1458.4" font-size="31.5" text-anchor="middle">1</text>
<rect x="1294.76" y="1416.3" width="4.4" height="11" fill="#333"/>
<text x="1296.96" y="1458.4" font-size="31.5" text-anchor="middle">2</text>
<rect x="1471.39" y="1416.3" width="4.4" height="11" fill="#333"/>
<text x="1473.59" y="1458.4" font-size="31.5" text-anchor="middle">3</text>
<text x="1208.7" y="1497.9" font-size="41.5" class="ax" text-anchor="middle" textLength="209.5" lengthAdjust="spacingAndGlyphs">Coefficients</text>
<text transform="translate(822.4,1252.1) rotate(-90)" font-size="41.2" class="ax" text-anchor="middle" textLength="132" lengthAdjust="spacingAndGlyphs">Density</text>
<text x="1206.8" y="1066.3" font-size="48" class="ti" text-anchor="middle" textLength="500.8" lengthAdjust="spacingAndGlyphs">IPMN-associated PDAC</text>
<text transform="translate(817.1,1070.5) scale(1.13,1)" font-size="57" font-weight="bold" class="b">f</text>
</g>
</svg>
</body></html>
